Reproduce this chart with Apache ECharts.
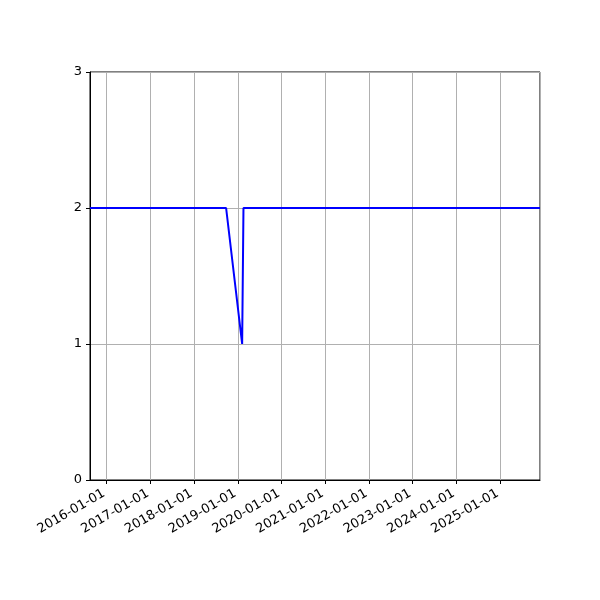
<!DOCTYPE html>
<html>
<head>
<meta charset="utf-8">
<script src="https://cdn.jsdelivr.net/npm/echarts@6/dist/echarts.min.js"></script>
<style>
  html, body { margin: 0; padding: 0; background: #fff; }
  #chart { width: 600px; height: 600px; }
</style>
</head>
<body>
<div id="chart"></div>
<script>
// dates and values
var dates = ['2015-08-15', '2018-09-25', '2019-02-06', '2019-02-17', '2025-11-29'];
var values = [2, 2, 1, 2, 2];
var yTicks = [0, 1, 2, 3];

var seriesData = [];
for (var i = 0; i < dates.length; i++) {
  seriesData.push([dates[i], values[i]]);
}

function pad(n) { return n < 10 ? '0' + n : '' + n; }

var chart = echarts.init(document.getElementById('chart'));
chart.setOption({
  animation: false,
  grid: {
    left: 90, right: 60, top: 72, bottom: 120,
    show: true, borderColor: '#000', borderWidth: 1
  },
  xAxis: {
    type: 'time',
    min: dates[0],
    max: dates[dates.length - 1],
    splitNumber: 10,
    axisLine: { show: true, lineStyle: { color: '#000', width: 1 } },
    axisTick: { show: true, length: 4, lineStyle: { color: '#000' } },
    minorTick: { show: false },
    splitLine: { show: true, lineStyle: { color: '#b0b0b0', width: 1 } },
    axisLabel: {
      rotate: 30,
      color: '#000',
      fontFamily: 'DejaVu Sans',
      fontSize: 13,
      margin: 11,
      padding: [0, 3, 0, 0],
      showMinLabel: false,
      showMaxLabel: false,
      hideOverlap: false,
      formatter: function (v) {
        var d = new Date(v);
        return d.getFullYear() + '-' + pad(d.getMonth() + 1) + '-' + pad(d.getDate());
      }
    }
  },
  yAxis: {
    type: 'value',
    min: yTicks[0],
    max: yTicks[yTicks.length - 1],
    interval: 1,
    axisLine: { show: true, lineStyle: { color: '#000', width: 1 } },
    axisTick: { show: true, length: 4, lineStyle: { color: '#000' } },
    splitLine: { show: true, lineStyle: { color: '#b0b0b0', width: 1 } },
    axisLabel: { color: '#000', fontFamily: 'DejaVu Sans', fontSize: 13, margin: 8 }
  },
  series: [{
    type: 'line',
    data: seriesData,
    showSymbol: false,
    lineStyle: { color: '#0000ff', width: 2 },
    itemStyle: { color: '#0000ff' }
  }]
});
</script>
</body>
</html>
